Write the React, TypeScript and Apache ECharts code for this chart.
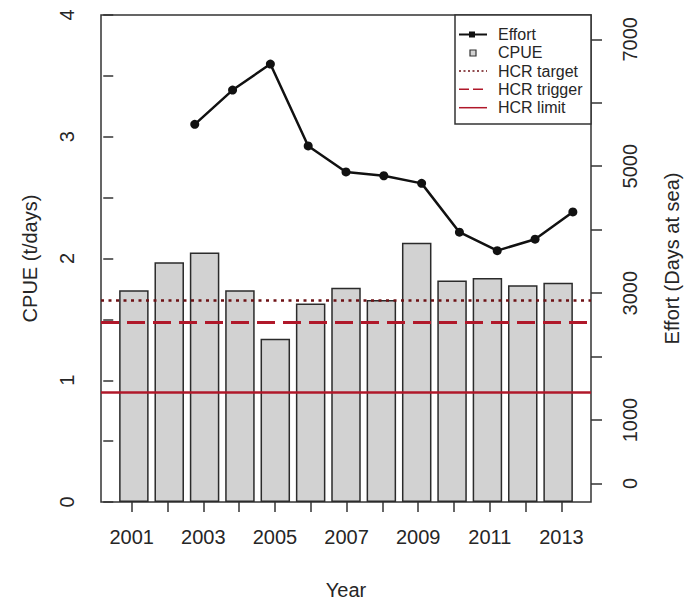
import React, { useEffect, useRef } from "react";
import * as echarts from "echarts";

// ---- data ----
const years = [2001, 2002, 2003, 2004, 2005, 2006, 2007, 2008, 2009, 2010, 2011, 2012, 2013];
const cpue = [1.74, 1.97, 2.05, 1.74, 1.34, 1.63, 1.76, 1.66, 2.13, 1.82, 1.84, 1.78, 1.8];
const effortYears = [2003, 2004, 2005, 2006, 2007, 2008, 2009, 2010, 2011, 2012, 2013];
const effort = [5660, 6200, 6610, 5320, 4910, 4850, 4730, 3960, 3670, 3850, 4280];
const hcrTarget = 1.66;
const hcrTrigger = 1.48;
const hcrLimit = 0.9;

const leftTicks = [0, 0.5, 1, 1.5, 2, 2.5, 3, 3.5, 4];
const leftLabels = [0, 1, 2, 3, 4];
const rightTicks = [0, 1000, 2000, 3000, 4000, 5000, 6000, 7000];
const rightLabels = [0, 1000, 3000, 5000, 7000];
const yearLabels = [2001, 2003, 2005, 2007, 2009, 2011, 2013];

const FONT = "Liberation Sans, Arial, sans-serif";
const TXT = "#262626";
const AX = "#333";
const RED = "#b0182a";
const DARKRED = "#6e1216";

export default function App() {
  const ref = useRef<HTMLDivElement>(null);
  useEffect(() => {
    document.body.style.margin = "0";
    document.body.style.overflow = "hidden";
    document.documentElement.style.overflow = "hidden";
    const chart = echarts.init(ref.current!, null, { renderer: "svg" });
    // barplot-style positions (width 1, space 0.2)
    const barData = cpue.map((v, i) => [0.7 + 1.2 * i, v]);
    const lineData = effortYears.map((y, i) => [y, effort[i]]);
    const plain = (v: number) => String(v);

    const option: any = {
      animation: false,
      textStyle: { fontFamily: FONT },
      grid: {
        show: true,
        left: 101,
        top: 15,
        width: 490,
        height: 487,
        borderColor: AX,
        borderWidth: 1.5,
        backgroundColor: "transparent",
        containLabel: false,
        outerBoundsMode: "none",
      },
      xAxis: [
        { type: "value", min: -0.416, max: 16.216, show: false },
        { type: "value", min: 2000.52, max: 2013.48, show: false },
        {
          type: "value",
          position: "bottom",
          min: 2000.142,
          max: 2013.824,
          axisLine: { show: false, onZero: false },
          axisTick: { show: true, length: 10, customValues: years, lineStyle: { color: AX, width: 1.5 } },
          axisLabel: {
            customValues: yearLabels,
            fontSize: 20,
            color: TXT,
            fontFamily: FONT,
            margin: 25,
            formatter: plain,
          },
          splitLine: { show: false },
          name: "Year",
          nameLocation: "middle",
          nameGap: 78,
          nameTextStyle: { fontSize: 20, color: TXT, fontFamily: FONT },
        },
      ],
      yAxis: [
        {
          type: "value",
          position: "left",
          min: 0,
          max: 4,
          axisLine: { show: false },
          axisTick: { show: true, length: 10, customValues: leftTicks, lineStyle: { color: AX, width: 1.5 } },
          axisLabel: {
            customValues: leftLabels,
            rotate: 90,
            fontSize: 20,
            color: TXT,
            fontFamily: FONT,
            margin: 24,
            formatter: plain,
          },
          splitLine: { show: false },
          name: "CPUE (t/days)",
          nameLocation: "middle",
          nameGap: 61,
          nameTextStyle: { fontSize: 20, color: TXT, fontFamily: FONT },
        },
        {
          type: "value",
          position: "right",
          min: -291,
          max: 7383,
          axisLine: { show: false },
          axisTick: { show: true, length: 11, customValues: rightTicks, lineStyle: { color: AX, width: 1.5 } },
          axisLabel: {
            customValues: rightLabels,
            rotate: 90,
            fontSize: 20,
            color: TXT,
            fontFamily: FONT,
            margin: 29,
            formatter: plain,
          },
          splitLine: { show: false },
          name: "Effort (Days at sea)",
          nameLocation: "middle",
          nameGap: 71,
          nameTextStyle: { fontSize: 20, color: TXT, fontFamily: FONT },
        },
      ],
      series: [
        {
          name: "CPUE",
          type: "bar",
          xAxisIndex: 0,
          yAxisIndex: 0,
          data: barData,
          barWidth: 29.5,
          itemStyle: { color: "#d2d2d2", borderColor: "#2b2b2b", borderWidth: 1.5 },
          markLine: {
            silent: true,
            symbol: ["none", "none"],
            label: { show: false },
            data: [
              { yAxis: hcrTarget, lineStyle: { color: DARKRED, width: 2.5, type: [3, 4.5] } },
              { yAxis: hcrTrigger, lineStyle: { color: RED, width: 3, type: [18, 8] } },
              { yAxis: hcrLimit, lineStyle: { color: RED, width: 2.5, type: "solid" } },
            ],
          },
        },
        {
          name: "Effort",
          type: "line",
          xAxisIndex: 1,
          yAxisIndex: 1,
          data: lineData,
          symbol: "circle",
          symbolSize: 9,
          itemStyle: { color: "#111" },
          lineStyle: { color: "#111", width: 2.5 },
          z: 5,
        },
      ],
      graphic: [
        {
          type: "group",
          z: 100,
          children: [
            { type: "rect", shape: { x: 455, y: 15, width: 136, height: 109 }, style: { fill: "#fff", stroke: AX, lineWidth: 1.5 } },
            { type: "line", shape: { x1: 459, y1: 34.5, x2: 487, y2: 34.5 }, style: { stroke: "#111", lineWidth: 2 } },
            { type: "rect", shape: { x: 469, y: 31.5, width: 6, height: 6 }, style: { fill: "#111" } },
            { type: "rect", shape: { x: 470, y: 50, width: 6, height: 6 }, style: { fill: "#d2d2d2", stroke: "#333", lineWidth: 1.2 } },
            { type: "line", shape: { x1: 459, y1: 71, x2: 487, y2: 71 }, style: { stroke: DARKRED, lineWidth: 1.5, lineDash: [2, 2.5] } },
            { type: "line", shape: { x1: 459, y1: 89.3, x2: 487, y2: 89.3 }, style: { stroke: RED, lineWidth: 1.5, lineDash: [10, 4] } },
            { type: "line", shape: { x1: 459, y1: 107.7, x2: 487, y2: 107.7 }, style: { stroke: RED, lineWidth: 1.5 } },
            { type: "text", x: 498, y: 34.5, style: { text: "Effort", font: `16px ${FONT}`, fill: TXT, verticalAlign: "middle" } },
            { type: "text", x: 498, y: 52.8, style: { text: "CPUE", font: `16px ${FONT}`, fill: TXT, verticalAlign: "middle" } },
            { type: "text", x: 498, y: 71, style: { text: "HCR target", font: `16px ${FONT}`, fill: TXT, verticalAlign: "middle" } },
            { type: "text", x: 498, y: 89.3, style: { text: "HCR trigger", font: `16px ${FONT}`, fill: TXT, verticalAlign: "middle" } },
            { type: "text", x: 498, y: 107.7, style: { text: "HCR limit", font: `16px ${FONT}`, fill: TXT, verticalAlign: "middle" } },
          ],
        },
      ],
    };
    chart.setOption(option);
    return () => chart.dispose();
  }, []);
  return <div ref={ref} style={{ width: 691, height: 601, overflow: "hidden" }} />;
}
